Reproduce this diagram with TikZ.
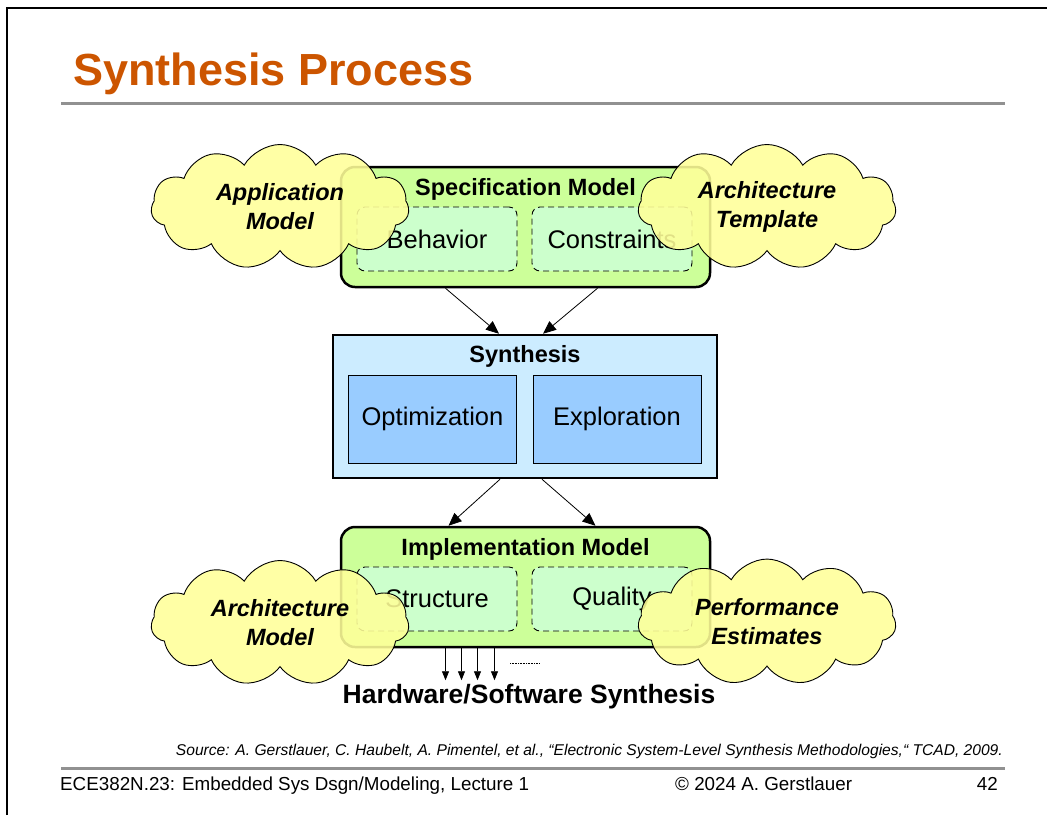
\documentclass[tikz,border=0pt]{standalone}
\usepackage{fontspec}
\setmainfont{Liberation Sans}
\usetikzlibrary{positioning,shapes.symbols,arrows.meta,calc}

\definecolor{titleorange}{RGB}{204,85,0}
\definecolor{rulegray}{RGB}{145,145,145}
\definecolor{modelgreen}{RGB}{204,255,153}
\definecolor{partgreen}{RGB}{204,255,204}
\definecolor{synblue}{RGB}{204,236,255}
\definecolor{partblue}{RGB}{153,204,255}
\definecolor{cloudyellow}{RGB}{255,255,153}

\newcommand{\headfont}{\fontsize{23.5}{29}\selectfont\bfseries}
\newcommand{\partfont}{\fontsize{25.5}{30}\selectfont}

\begin{document}
\begin{tikzpicture}[
					x=1pt, y=-1pt,
					model/.style={
						draw, line width=2.5pt, rounded corners=14pt,
						fill=modelgreen, minimum width=369pt, minimum height=120pt
					},
					part/.style={
						draw, line width=0.9pt, dash pattern=on 6pt off 4pt,
						rounded corners=8pt, fill=partgreen,
						minimum width=160pt, minimum height=64pt, font=\partfont
					},
					engine/.style={
						draw, line width=2.5pt, fill=synblue,
						minimum width=384pt, minimum height=143pt
					},
					task/.style={
						draw, line width=1pt, fill=partblue,
						minimum width=168pt, minimum height=88pt, font=\partfont
					},
					puff/.style={
						cloud, cloud puffs=11, cloud puff arc=120, aspect=2.1,
						draw, line width=0.9pt, fill=cloudyellow, fill opacity=0.88,
						text opacity=1, minimum width=258pt, minimum height=125pt,
						align=center, font=\headfont\itshape, inner sep=0pt
					},
					head/.style={font=\headfont, inner sep=0pt},
					flow/.style={
						draw, black, line width=0.8pt, -{Triangle[length=13pt,width=11pt]}
					},
					outlet/.style={
						draw, black, line width=0.8pt, -{Triangle[length=9pt,width=7pt]}
					},
					slide rule/.style={rulegray, line width=3pt}
					]
					\useasboundingbox (0,0) rectangle (1047,815);
					% Rahmen und Kopfzeile
					\draw[line width=2.5pt] (7,815) -- (7,8) -- (1047,8);
					\node[anchor=base west, inner sep=0pt, text=titleorange,
						font=\fontsize{45}{54}\selectfont\bfseries] (title) at (73,85) {Synthesis Process};
					\draw[slide rule] (61,103) -- (1005,103);
					
					% Spezifikationsmodell
					\node[model] (spec) at (525.5,227) {};
					\node[head] (spectitle) at (525.5,189) {Specification Model};
					\node[part] (behav) at (437,239) {Behavior};
					\node[part] (constr) at (612,239) {Constraints};
					\node[puff] (appl) at (280,207) {Application\\Model};
					\node[puff] (archt) at (767,207) {Architecture\\Template};
					
					% Synthese
					\node[engine] (syn) at (525,406.5) {};
					\node[head] (syntitle) at (525,356) {Synthesis};
					\node[task] (optim) at (432.5,419) {Optimization};
					\node[task] (explor) at (617,419) {Exploration};
					
					% Implementierungsmodell
					\node[model] (impl) at (525.5,587) {};
					\node[head] (impltitle) at (525.5,549) {Implementation Model};
					\node[part] (struct) at (437,599) {Structure};
					\node[part] (qual) at (612,599) {Quality};
					\node[puff] (archm) at (280,623) {Architecture\\Model};
					\node[puff] (perf) at (767,622) {Performance\\Estimates};
					
					% Pfeile
					\draw[flow] ([xshift=-80pt]spec.south) -- ([xshift=-26pt]syn.north);
					\draw[flow] ([xshift=72pt]spec.south) -- ([xshift=18pt]syn.north);
					\draw[flow] ([xshift=-25pt]syn.south) -- ([xshift=-77pt]impl.north);
					\draw[flow] ([xshift=17pt]syn.south) -- ([xshift=70pt]impl.north);
					\foreach \dx in {-80,-64,-48,-31}
						\draw[outlet] ([xshift=\dx pt]impl.south) -- ++(0,32);
					\draw[line width=0.6pt, densely dotted] (510,663) -- (540,663);
					\node[font=\fontsize{26.5}{31}\selectfont\bfseries, inner sep=0pt] (hwsw) at (529,697) {Hardware/Software Synthesis};
					
					% Fusszeile
					\node[anchor=base east, inner sep=0pt, font=\fontsize{15.6}{18}\selectfont\itshape] (src) at (1003,755)
						{Source: A. Gerstlauer, C. Haubelt, A. Pimentel, et al., “Electronic System-Level Synthesis Methodologies,“ TCAD, 2009.};
					\draw[slide rule] (61,768) -- (1005,768);
					\node[anchor=base west, inner sep=0pt, font=\fontsize{18.8}{22}\selectfont] (course) at (60,790)
						{ECE382N.23: Embedded Sys Dsgn/Modeling, Lecture 1};
					\node[anchor=base west, inner sep=0pt, font=\fontsize{18.8}{22}\selectfont] (copy) at (675,790)
						{© 2024 A. Gerstlauer};
					\node[anchor=base east, inner sep=0pt, font=\fontsize{18.8}{22}\selectfont] (page) at (998,790) {42};
				\end{tikzpicture}
\end{document}
